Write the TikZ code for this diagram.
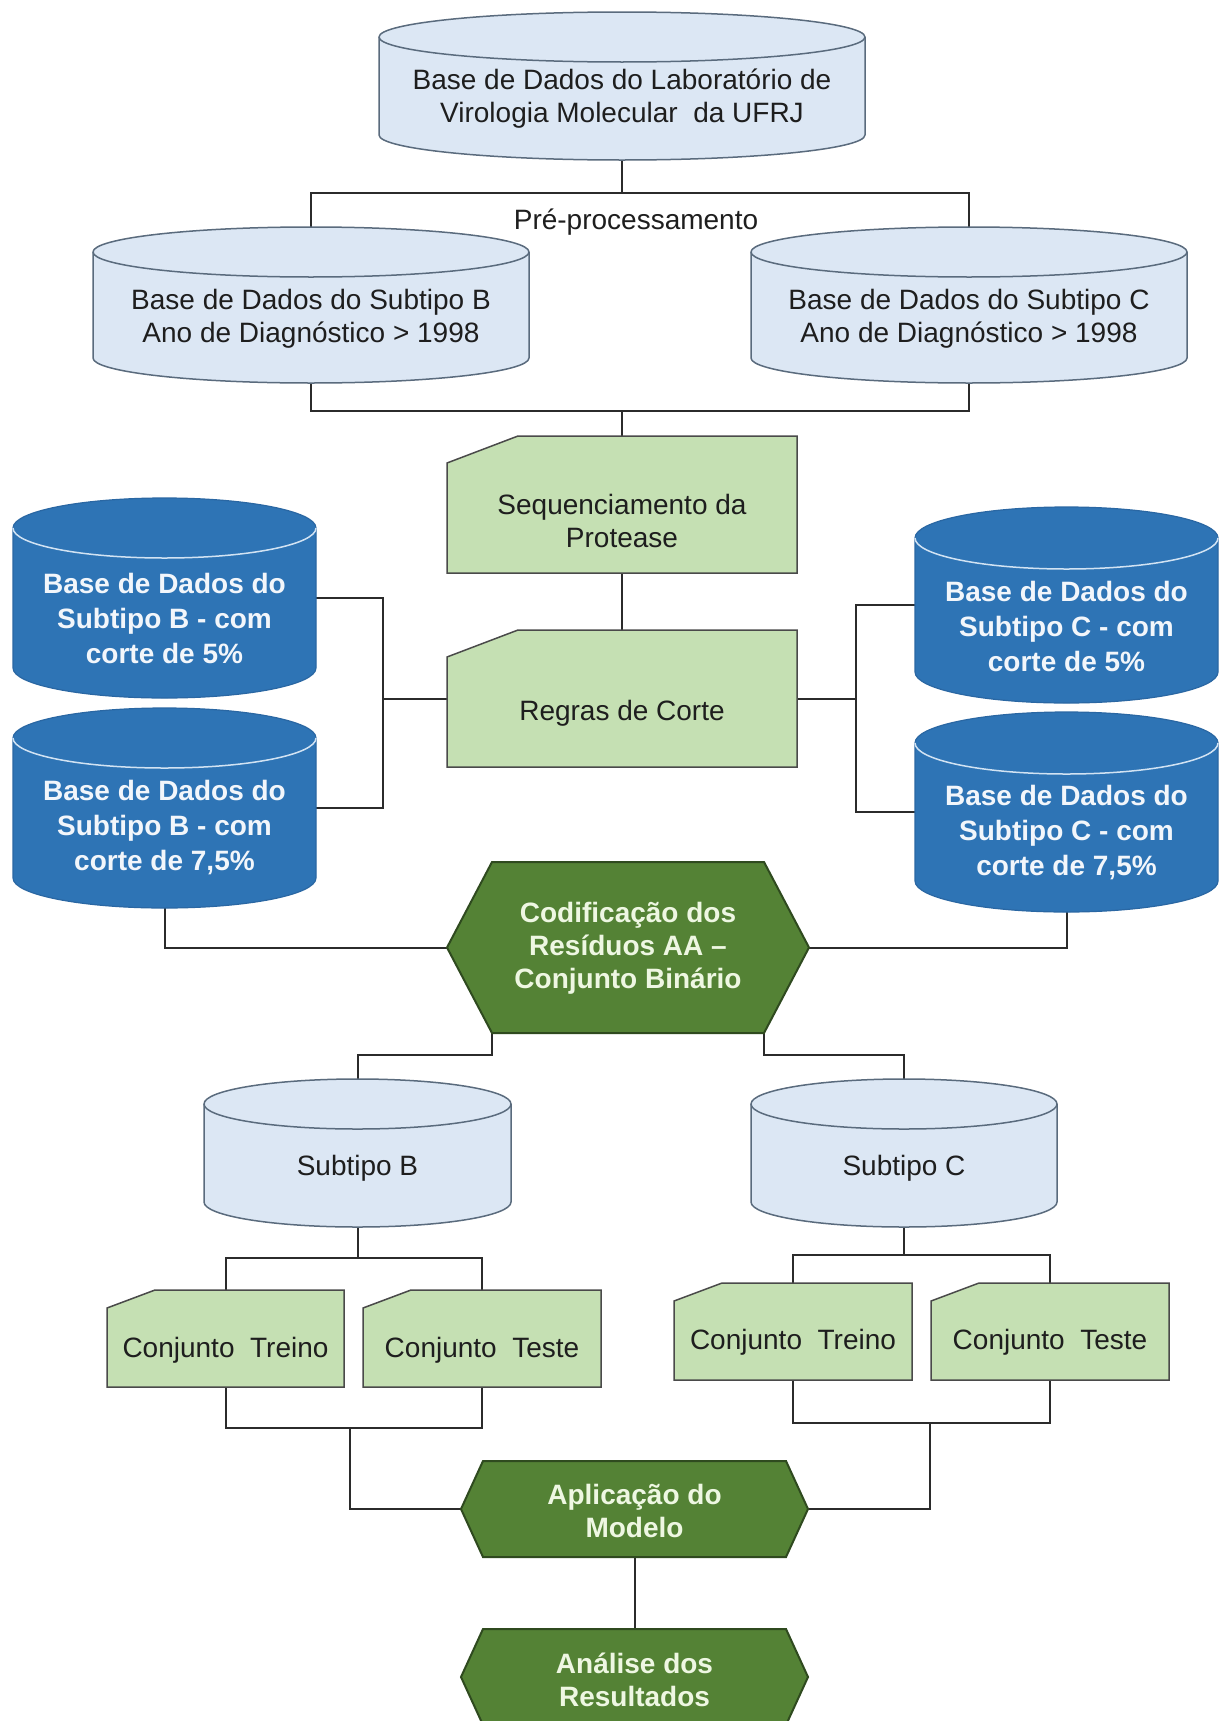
\documentclass[tikz,border=0pt]{standalone}
\usepackage{fontspec}
\setmainfont{Liberation Sans}
\usetikzlibrary{calc}

\definecolor{lbfill}{HTML}{DCE7F4}
\definecolor{lbline}{HTML}{5A6B7D}
\definecolor{dbfill}{HTML}{2E74B5}
\definecolor{dbline}{HTML}{2A67A3}
\definecolor{dbarc}{HTML}{D2E3F3}
\definecolor{cardfill}{HTML}{C5E0B3}
\definecolor{cardline}{HTML}{4A4A4A}
\definecolor{hexfill}{HTML}{548235}
\definecolor{hexline}{HTML}{2F4A1F}
\definecolor{hextext}{HTML}{EEF7E2}
\definecolor{dbtext}{HTML}{F2F6FB}
\definecolor{ink}{HTML}{1E1E1E}
\definecolor{wire}{HTML}{2B2B2B}

% cylinder drawn over the bounding box of node #1 (x radius #2, lid radius #3)
\newcommand\cylshape[4]{%
  \path[#4] ([yshift=-#3pt]#1.north west) -- ([yshift=#3pt]#1.south west)
    arc[start angle=180, end angle=360, x radius=#2pt, y radius=#3pt]
    -- ([yshift=-#3pt]#1.north east)
    arc[start angle=0, end angle=180, x radius=#2pt, y radius=#3pt] -- cycle;
}
\newcommand\cylrim[4]{%
  \draw[#4] ([yshift=-#3pt]#1.north west)
    arc[start angle=180, end angle=360, x radius=#2pt, y radius=#3pt];
}
% card with the top-left corner cut off
\newcommand\cardshape[4]{%
  \path[#4] ([yshift=-#3pt]#1.north west) -- (#1.south west) -- (#1.south east)
    -- (#1.north east) -- ([xshift=#2pt]#1.north west) -- cycle;
}
% elongated hexagon pointing left and right
\newcommand\hexshape[3]{%
  \path[#3] (#1.west) -- ([xshift=#2pt]#1.north west) -- ([xshift=-#2pt]#1.north east)
    -- (#1.east) -- ([xshift=-#2pt]#1.south east) -- ([xshift=#2pt]#1.south west) -- cycle;
}

\tikzset{
  box/.style={draw=none, rectangle, inner sep=0pt, outer sep=0pt},
  lightcyl/.style={fill=lbfill, draw=lbline, line width=1.5pt},
  lightrim/.style={draw=lbline, line width=1.5pt},
  darkcyl/.style={fill=dbfill, draw=dbline, line width=1.2pt},
  darkrim/.style={draw=dbarc, line width=1.5pt},
  cardstyle/.style={fill=cardfill, draw=cardline, line width=1.5pt},
  hexstyle/.style={fill=hexfill, draw=hexline, line width=2pt},
  txtplain/.style={font=\fontsize{28}{33}\selectfont, align=center, text=ink, inner sep=0pt},
  txtdb/.style={font=\fontsize{28}{35}\selectfont\bfseries, align=center, text=dbtext, inner sep=0pt},
  txthex/.style={font=\fontsize{28}{33}\selectfont\bfseries, align=center, text=hextext, inner sep=0pt},
  wire/.style={draw=wire, line width=2pt},
}

\begin{document}
\begin{tikzpicture}[x=1pt, y=-1pt]
\useasboundingbox[fill=white] (0,0) rectangle (1220,1721);

% ---------- boxes that carry the shapes ----------
\node[box, minimum width=486pt, minimum height=148pt] (lab) at (622,86) {};
\node[box, minimum width=436pt, minimum height=156pt] (cB) at (311,305) {};
\node[box, minimum width=436pt, minimum height=156pt] (cC) at (969,305) {};
\node[box, minimum width=350pt, minimum height=137pt] (seq) at (622,504.5) {};
\node[box, minimum width=350pt, minimum height=137pt] (rc) at (622,698.5) {};
\node[box, minimum width=303pt, minimum height=200pt] (B5) at (164.5,598) {};
\node[box, minimum width=303pt, minimum height=200pt] (B7) at (164.5,808) {};
\node[box, minimum width=303pt, minimum height=196pt] (C5) at (1066.5,605) {};
\node[box, minimum width=303pt, minimum height=200pt] (C7) at (1066.5,812) {};
\node[box, minimum width=362pt, minimum height=171pt] (cod) at (628,947.5) {};
\node[box, minimum width=307pt, minimum height=148pt] (sB) at (357.5,1153) {};
\node[box, minimum width=306pt, minimum height=148pt] (sC) at (904,1153) {};
\node[box, minimum width=237pt, minimum height=97pt] (tB) at (225.5,1338.5) {};
\node[box, minimum width=238pt, minimum height=97pt] (eB) at (482,1338.5) {};
\node[box, minimum width=238pt, minimum height=97pt] (tC) at (793,1331.5) {};
\node[box, minimum width=238pt, minimum height=97pt] (eC) at (1050,1331.5) {};
\node[box, minimum width=347pt, minimum height=96pt] (apl) at (634.5,1509) {};
\node[box, minimum width=347pt, minimum height=96pt] (ana) at (634.5,1677) {};

% ---------- connectors ----------
\draw[wire] (lab.south) -- ++(0,33) coordinate (j1);
\draw[wire] (cB.north) |- (j1) -| (cC.north);
\draw[wire] (seq.north) -- ++(0,-25) coordinate (j2);
\draw[wire] (cB.south) |- (j2) -| (cC.south);
\draw[wire] (seq.south) -- (rc.north);

\path (rc.west) ++(-64,0) coordinate (jL);
\draw[wire] (B5.east) -| (jL) |- (B7.east);
\draw[wire] (jL) -- (rc.west);
\path (rc.east) ++(59,0) coordinate (jR);
\draw[wire] (C5.west) -| (jR) |- (C7.west);
\draw[wire] (jR) -- (rc.east);

\draw[wire] (B7.south) |- (cod.west);
\draw[wire] (C7.south) |- (cod.east);

\draw[wire] ([xshift=45pt]cod.south west) -- ++(0,22) -| (sB.north);
\draw[wire] ([xshift=-45pt]cod.south east) -- ++(0,22) -| (sC.north);

\draw[wire] (sB.south) -- ++(0,31) coordinate (jB);
\draw[wire] (tB.north) |- (jB) -| (eB.north);
\draw[wire] (sC.south) -- ++(0,28) coordinate (jC);
\draw[wire] (tC.north) |- (jC) -| (eC.north);

\coordinate (jB2) at (350,1428);
\draw[wire] (tB.south) |- (jB2) -| (eB.south);
\draw[wire] (jB2) |- (apl.west);
\coordinate (jC2) at (930,1423);
\draw[wire] (tC.south) |- (jC2) -| (eC.south);
\draw[wire] (jC2) |- (apl.east);

\draw[wire] (apl.south) -- (ana.north);

% ---------- shapes ----------
\cylshape{lab}{243}{25}{lightcyl}  \cylrim{lab}{243}{25}{lightrim}
\cylshape{cB}{218}{25}{lightcyl}   \cylrim{cB}{218}{25}{lightrim}
\cylshape{cC}{218}{25}{lightcyl}   \cylrim{cC}{218}{25}{lightrim}
\cylshape{sB}{153.5}{25}{lightcyl} \cylrim{sB}{153.5}{25}{lightrim}
\cylshape{sC}{153}{25}{lightcyl}   \cylrim{sC}{153}{25}{lightrim}

\cylshape{B5}{151.5}{30}{darkcyl}  \cylrim{B5}{151.5}{30}{darkrim}
\cylshape{B7}{151.5}{30}{darkcyl}  \cylrim{B7}{151.5}{30}{darkrim}
\cylshape{C5}{151.5}{31}{darkcyl}  \cylrim{C5}{151.5}{31}{darkrim}
\cylshape{C7}{151.5}{31}{darkcyl}  \cylrim{C7}{151.5}{31}{darkrim}

\cardshape{seq}{71}{27}{cardstyle}
\cardshape{rc}{71}{27}{cardstyle}
\cardshape{tB}{48}{18}{cardstyle}
\cardshape{eB}{48}{18}{cardstyle}
\cardshape{tC}{48}{18}{cardstyle}
\cardshape{eC}{48}{18}{cardstyle}

\hexshape{cod}{45}{hexstyle}
\hexshape{apl}{22}{hexstyle}
\hexshape{ana}{22}{hexstyle}

% ---------- texts ----------
\node[txtplain] (lab-t) at (622,99) {Base de Dados do Laboratório de\\Virologia Molecular\ \ da UFRJ};
\node[txtplain] (pre-t) at (636,222) {Pré-processamento};
\node[txtplain] (cB-t) at (311,319) {Base de Dados do Subtipo B\\Ano de Diagnóstico > 1998};
\node[txtplain] (cC-t) at (969,319) {Base de Dados do Subtipo C\\Ano de Diagnóstico > 1998};
\node[txtplain] (seq-t) at (622,521) {Sequenciamento da\\Protease};
\node[txtplain] (rc-t) at (622,713) {Regras de Corte};

\node[txtdb] (B5-t) at (164.5,618) {Base de Dados do\\Subtipo B - com\\corte de 5\%};
\node[txtdb] (B7-t) at (164.5,828) {Base de Dados do\\Subtipo B - com\\corte de 7,5\%};
\node[txtdb] (C5-t) at (1066.5,626) {Base de Dados do\\Subtipo C - com\\corte de 5\%};
\node[txtdb] (C7-t) at (1066.5,833) {Base de Dados do\\Subtipo C - com\\corte de 7,5\%};

\node[txthex] (cod-t) at (628,948) {Codificação dos\\Resíduos AA –\\Conjunto Binário};

\node[txtplain] (sB-t) at (357.5,1168) {Subtipo B};
\node[txtplain] (sC-t) at (904,1168) {Subtipo C};

\node[txtplain] (tB-t) at (225.5,1350) {Conjunto\ \ Treino};
\node[txtplain] (eB-t) at (482,1350) {Conjunto\ \ Teste};
\node[txtplain] (tC-t) at (793,1342) {Conjunto\ \ Treino};
\node[txtplain] (eC-t) at (1050,1342) {Conjunto\ \ Teste};

\node[txthex] (apl-t) at (634.5,1511) {Aplicação do\\Modelo};
\node[txthex] (ana-t) at (634.5,1680) {Análise dos\\Resultados};
\end{tikzpicture}
\end{document}
